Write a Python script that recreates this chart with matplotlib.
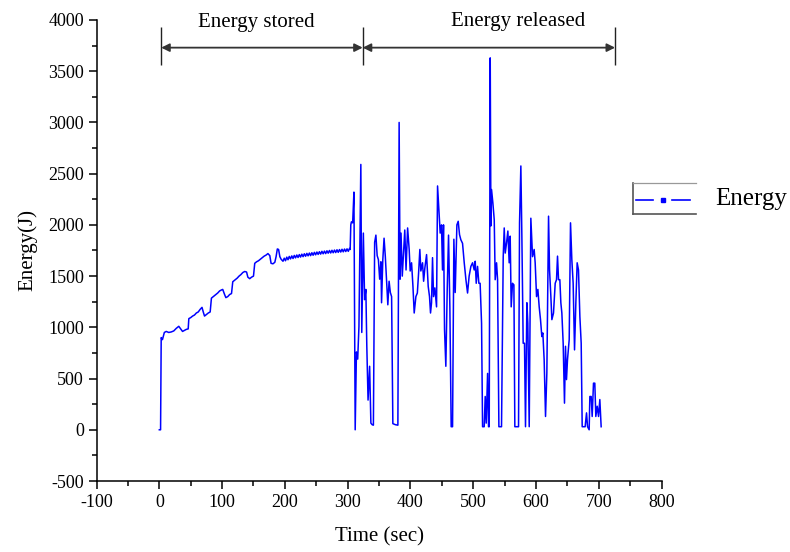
import matplotlib
matplotlib.use('Agg')
import matplotlib.pyplot as plt
from matplotlib.lines import Line2D
from matplotlib.ticker import MultipleLocator

# ===== DONNEES =====
# phase de stockage
t_stored = [0, 2, 3, 5, 8, 11, 15, 19, 23, 27, 31, 34, 37, 40, 43, 46,
            47, 50, 53, 56, 59, 62, 65, 68, 70, 72, 75, 78, 81,
            83, 86, 90, 93, 96, 99, 101, 104, 106, 109, 112, 115,
            117, 120, 124, 127, 130, 133, 136, 139, 141, 144, 147, 150,
            152, 155, 158, 161, 164, 167, 170, 173, 176, 178, 181, 184,
            186, 188, 190, 192, 194, 197]
e_stored = [0, 0, 900, 880, 950, 960, 950, 955, 965, 990, 1010, 985, 960, 970, 980, 985,
            1085, 1095, 1110, 1120, 1140, 1150, 1175, 1195, 1150, 1110, 1125, 1140, 1150,
            1285, 1300, 1320, 1335, 1355, 1365, 1370, 1320, 1290, 1300, 1320, 1330,
            1445, 1460, 1480, 1500, 1515, 1535, 1545, 1540, 1490, 1475, 1490, 1500,
            1625, 1640, 1650, 1665, 1680, 1695, 1705, 1720, 1700, 1625, 1620, 1635,
            1690, 1765, 1760, 1690, 1665, 1645]

# plateau en dents de scie avant la décharge
t_plateau = [199, 201, 203, 205, 207, 209, 211, 213, 215, 217, 219, 221, 223, 225,
             227, 229, 231, 233, 235, 237, 239, 241, 243, 245, 247, 249, 251, 253,
             255, 257, 259, 261, 263, 265, 267, 269, 271, 273, 275, 277, 279, 281,
             283, 285, 287, 289, 291, 293, 295, 297, 299, 301, 303, 304]
e_plateau = [1675, 1650, 1685, 1660, 1692, 1668, 1697, 1672, 1702, 1678, 1706, 1682, 1710, 1686,
             1714, 1690, 1718, 1694, 1722, 1698, 1725, 1700, 1728, 1704, 1732, 1708, 1735, 1712,
             1738, 1715, 1742, 1718, 1744, 1720, 1747, 1724, 1750, 1726, 1752, 1728, 1754, 1730,
             1757, 1732, 1759, 1735, 1762, 1737, 1764, 1740, 1766, 1742, 1770, 1760]

# phase de restitution
t_released = [305, 306, 308, 310, 312, 314, 316, 318, 321, 322.5, 325, 327, 329, 330.5,
              332.5, 335, 337, 339, 341, 343, 345, 347, 349, 351, 353, 354, 356, 358,
              360, 362, 364, 366, 368, 370, 372, 376, 380, 382, 383.5, 385, 387, 389,
              391, 393, 395.5, 398, 399.6, 401.8, 404, 406, 408.7, 411, 413, 415, 416.6,
              419.3, 421, 423, 425.7, 428.3, 430.4, 432, 433.6, 435.2, 436.8, 438.9,
              441.6, 443.2, 445.3, 447.4, 449.5, 451.1, 452.7, 454.3, 456.4, 458.6,
              460.7, 462.8, 464.9, 467.1, 469.2, 471.3, 474, 476.1, 478.2, 480.3, 483,
              485.7, 488.4, 491, 493.5, 496.3, 499, 501.6, 503.2, 504.8, 506.9, 509,
              511, 513.3, 514.9, 517.5, 519.1, 520.7, 522.9, 524.4, 525.5, 527.1, 528.2,
              529.2, 531.3, 533.5, 535, 537.2, 538.8, 540.9, 545.1, 547.8, 549.4, 551,
              553, 555.2, 557.3, 558.9, 560.5, 562.6, 564.8, 566.3, 572.2, 573.8, 575.9,
              577.5, 579.6, 581.7, 583.3, 585.5, 587, 589.2, 591.8, 594.5, 597.1, 598.7,
              600.9, 603, 605.1, 607.2, 609.3, 610.9, 613, 615.2, 617.3, 620, 621.6,
              623.7, 625.3, 627.9, 630.6, 632.7, 634.3, 635.9, 638, 639.6, 641.2, 643.3,
              645.4, 647, 648.6, 650.2, 652.9, 655, 657.1, 659.2, 661.4, 663.5, 665.6,
              667.7, 669.9, 672, 673.6, 678.3, 680.5, 682.1, 684.7, 685.8, 687.9, 689.5,
              691.6, 693.7, 695.3, 697.5, 699.6, 701.7, 703.8]
e_released = [2000, 2030, 2020, 2320, 0, 760, 690, 1010, 2590, 950, 1920, 1270, 1370, 820,
              290, 620, 65, 50, 45, 1830, 1900, 1700, 1660, 1470, 1640, 1240, 1660, 1870,
              1690, 1460, 1220, 1450, 1340, 1300, 60, 50, 45, 3000, 1470, 1920, 1500, 1730,
              1950, 1560, 1970, 1760, 1550, 1630, 1400, 1140, 1300, 1335, 1530, 1760, 1550,
              1630, 1450, 1580, 1710, 1400, 1300, 1140, 1240, 1680, 1300, 1385,
              1200, 2380, 2150, 1920, 2000, 1560, 2000, 980, 620, 1370,
              1900, 1200, 30, 30, 1860, 1340, 2000, 2035, 1905, 1855, 1820,
              1630, 1465, 1335, 1500, 1595, 1630, 1560, 1645, 1430, 1595, 1430,
              1430, 1040, 30, 30, 325, 65, 550, 30, 30, 3630, 1990,
              2345, 2215, 2050, 1465, 1630, 1465, 30, 30, 1690, 1970, 1725,
              1820, 1940, 1630, 1890, 1200, 1430, 1415, 30, 30, 2020, 2575,
              1890, 845, 845, 30, 1240, 1040, 30, 2065, 1690, 1760, 1630,
              1300, 1370, 1200, 1075, 910, 945, 685, 130, 555, 2085, 1560,
              1300, 1075, 1140, 1430, 1465, 1695, 1465, 1465, 1240, 1140, 845,
              260, 815, 490, 685, 880, 2020, 1660, 1430, 780, 1240, 1630,
              1560, 1105, 845, 30, 30, 165, 30, 0, 325, 325, 130,
              455, 455, 130, 230, 130, 295, 30]

time_s = t_stored + t_plateau + t_released
energy = e_stored + e_plateau + e_released

# ===== FIGURE =====
plt.rcParams['font.family'] = ['Liberation Serif', 'DejaVu Serif']
plt.rcParams['axes.unicode_minus'] = False

fig = plt.figure(figsize=(7.9, 5.52), dpi=100)
ax = fig.add_axes([0.1222, 0.1286, 0.7152, 0.8352])

ax.plot(time_s, energy, color='#0000ff', lw=1.1)

ax.set_xlim(-100, 800)
ax.set_ylim(-500, 4000)
ax.xaxis.set_major_locator(MultipleLocator(100))
ax.xaxis.set_minor_locator(MultipleLocator(50))
ax.yaxis.set_major_locator(MultipleLocator(500))
ax.yaxis.set_minor_locator(MultipleLocator(250))
ax.tick_params(which='major', direction='out', length=6, width=1.1, labelsize=13, pad=3)
ax.tick_params(which='minor', direction='out', length=3.5, width=1.1)
for s in ['top', 'right']:
    ax.spines[s].set_visible(False)
for s in ['left', 'bottom']:
    ax.spines[s].set_linewidth(1.1)

ax.set_xlabel('Time (sec)', fontsize=15, labelpad=12)
ax.set_ylabel('Energy(J)', fontsize=15, labelpad=8)

# ===== ANNOTATIONS (phases) =====
ax.vlines([3, 324, 726], 3560, 3935, color='#222222', lw=1.0, clip_on=False)
arrow = dict(arrowstyle='<|-|>', color='#333333', lw=1.3,
             mutation_scale=12, shrinkA=0, shrinkB=0)
ax.annotate('', xy=(3, 3730), xytext=(324, 3730), arrowprops=arrow, annotation_clip=False)
ax.annotate('', xy=(324, 3730), xytext=(726, 3730), arrowprops=arrow, annotation_clip=False)
ax.text(155, 3930, 'Energy stored', fontsize=15, ha='center', va='baseline', clip_on=False)
ax.text(571, 3940, 'Energy released', fontsize=15, ha='center', va='baseline', clip_on=False)

# ===== LEGENDE (dessinée à la main) =====
box_col = '#555555'
fig.add_artist(Line2D([0.8013, 0.8013], [0.6123, 0.6685], color=box_col, lw=1.2))
fig.add_artist(Line2D([0.8013, 0.8810], [0.6685, 0.6685], color='#999999', lw=0.9))
fig.add_artist(Line2D([0.8013, 0.8810], [0.6123, 0.6123], color=box_col, lw=1.2))
fig.add_artist(Line2D([0.805, 0.8266], [0.6377, 0.6377], color='#0000ff', lw=1.2))
fig.add_artist(Line2D([0.8506, 0.8734], [0.6377, 0.6377], color='#0000ff', lw=1.2))
fig.add_artist(Line2D([0.8389], [0.6377], color='#0000ff', marker='s', markersize=3.5, lw=0))
fig.text(0.905, 0.6395, 'Energy', fontsize=18, ha='left', va='center')

plt.savefig('out.png', dpi=100)
